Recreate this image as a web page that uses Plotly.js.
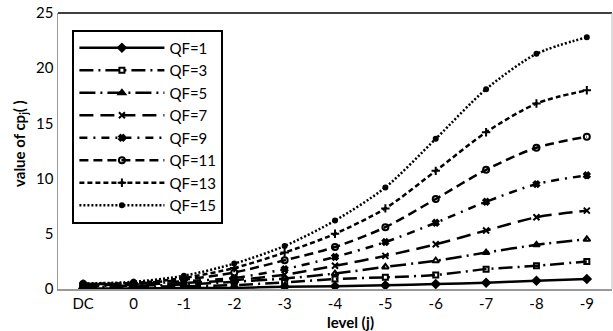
<!DOCTYPE html>
<html>
<head>
<meta charset="utf-8">
<script src="https://cdn.plot.ly/plotly-3.0.1.min.js"></script>
<style>html,body{margin:0;padding:0;background:#fff;}#chart{width:613px;height:331px;}</style>
</head>
<body>
<div id="chart"></div>
<script>
const categories = ['DC','0','-1','-2','-3','-4','-5','-6','-7','-8','-9'];
const qf1  = [0.05,0.05,0.1,0.1,0.2,0.25,0.33,0.45,0.57,0.75,0.9];
const qf3  = [0.2,0.2,0.25,0.35,0.6,0.9,1.06,1.27,1.8,2.1,2.5];
const qf5  = [0.3,0.3,0.4,0.66,0.95,1.4,2.0,2.56,3.3,4.0,4.5];
const qf7  = [0.35,0.4,0.55,0.8,1.3,2.1,3.0,4.05,5.3,6.5,7.1];
const qf9  = [0.4,0.45,0.7,1.0,1.8,2.9,4.25,6.0,7.9,9.5,10.3];
const qf11 = [0.45,0.5,0.85,1.5,2.6,3.8,5.6,8.15,10.8,12.8,13.8];
const qf13 = [0.48,0.55,1.0,1.9,3.3,5.0,7.3,10.7,14.2,16.8,18.0];
const qf15 = [0.5,0.65,1.2,2.3,3.9,6.2,9.2,13.6,18.1,21.3,22.8];
const seriesNames = ['QF=1','QF=3','QF=5','QF=7','QF=9','QF=11','QF=13','QF=15'];
const seriesValues = [qf1,qf3,qf5,qf7,qf9,qf11,qf13,qf15];

const styles = [
  {dash:'solid', symbol:'diamond', size:6},
  {dash:'14px,5px,2px,5px', symbol:'square-open', size:5},
  {dash:'16px,5px,2px,5px', symbol:'triangle-up-open', size:6},
  {dash:'14px,7px', symbol:'x-thin-open', size:6},
  {dash:'8px,6px,2px,6px', symbol:'x', size:5},
  {dash:'9px,5px', symbol:'circle-open', size:6},
  {dash:'5px,3px', symbol:'cross-thin-open', size:6},
  {dash:'2px,2px', symbol:'circle', size:4}
];

const xs = categories.map((c,i)=>i);
const traces = seriesNames.map((n,k)=>({
  x: xs, y: seriesValues[k], name: n, type:'scatter', mode:'lines+markers',
  legendgroup: 'g'+k,
  line:{color:'#000', width:2.5, dash:styles[k].dash, shape:'spline', smoothing:0.8},
  marker:{symbol:styles[k].symbol, size:styles[k].size, color:'#000', line:{color:'#000', width:2}}
}));

const fontFam = 'Lato, "Open Sans", sans-serif';
const layout = {
  width:613, height:331,
  margin:{l:58, r:1, t:13, b:42},
  paper_bgcolor:'#fff', plot_bgcolor:'#fff',
  font:{family:fontFam, size:15, color:'#000'},
  showlegend:true,
  legend:{x:0.026, y:0.94, xanchor:'left', yanchor:'top', bgcolor:'#fff',
    bordercolor:'#000', borderwidth:2, font:{family:fontFam, size:15, color:'#000'},
    itemwidth:85, tracegroupgap:9, traceorder:'normal'},
  xaxis:{range:[-0.5,10.5], tickmode:'array', tickvals:xs, ticktext:categories,
    showgrid:false, zeroline:false, showline:true, linecolor:'#999', linewidth:1.5,
    ticks:'', tickfont:{size:15}, fixedrange:true},
  yaxis:{range:[0,25], dtick:5, showgrid:false, zeroline:false, showline:true,
    linecolor:'#999', linewidth:1.5, ticks:'', tickfont:{size:15}, ticklen:0},
  shapes:[
    {type:'line', xref:'paper', yref:'paper', x0:0, x1:1, y0:1, y1:1, line:{color:'#000', width:1.5}},
    {type:'line', xref:'paper', yref:'paper', x0:1, x1:1, y0:0, y1:1, line:{color:'#bbb', width:1}}
  ],
  annotations:[
    {text:'<b>level (j)</b>', xref:'paper', yref:'paper', x:(350-58)/554, y:-0.078, xanchor:'center', yanchor:'top', showarrow:false, font:{size:15, family:fontFam}},
    {text:'<b>value of cp<sub>j</sub>( )</b>', xref:'paper', yref:'paper', x:-0.047, xanchor:'right', y:(289-143)/276, yanchor:'middle', textangle:-90, showarrow:false, font:{size:15, family:fontFam}}
  ]
};
Plotly.newPlot('chart', traces, layout, {displayModeBar:false, staticPlot:true});
</script>
</body>
</html>
